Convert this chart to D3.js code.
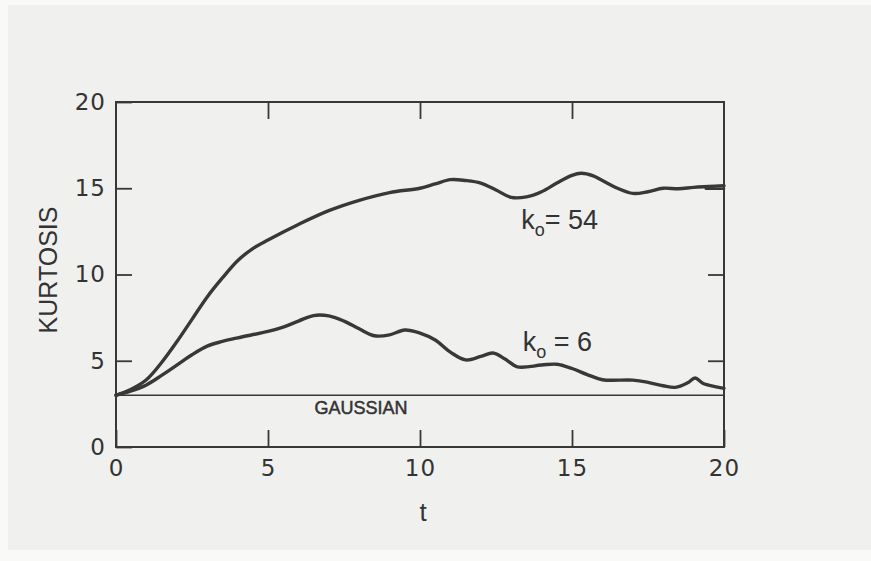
<!DOCTYPE html>
<html>
<head>
<meta charset="utf-8">
<script src="https://cdn.jsdelivr.net/npm/d3@7/dist/d3.min.js"></script>
<style>
  html, body { margin: 0; padding: 0; background: #f9f9f8; }
  svg { display: block; }
</style>
</head>
<body>
<svg id="chart" width="871" height="561"></svg>
<script>
// Kurtosis as a function of time for two initial values k0, with the Gaussian level
const tValues54 = [0, 0.5, 1, 1.5, 2, 2.5, 3, 3.5, 4, 4.5, 5, 6, 7, 8, 9, 10, 10.5, 11, 11.5, 12, 12.5, 13, 13.5, 14, 14.5, 15, 15.3, 15.7, 16, 16.5, 17, 17.5, 18, 18.5, 19, 19.5, 20];
const kurt54 =    [3.0, 3.35, 3.9, 4.9, 6.1, 7.4, 8.7, 9.8, 10.8, 11.5, 12.0, 12.9, 13.7, 14.3, 14.75, 15.0, 15.25, 15.5, 15.45, 15.3, 14.9, 14.47, 14.5, 14.8, 15.3, 15.75, 15.87, 15.72, 15.45, 15.0, 14.7, 14.8, 15.0, 14.97, 15.05, 15.1, 15.15];
const tTail54 = [19.4, 20];
const kurtTail54 = [14.97, 14.97];

const tValues6 = [0, 0.5, 1, 1.5, 2, 2.5, 3, 3.5, 4, 5, 5.5, 6, 6.5, 7, 7.5, 8, 8.5, 9, 9.5, 10, 10.5, 11, 11.5, 12, 12.4, 12.8, 13.2, 14, 14.5, 15, 15.5, 16, 17, 17.5, 18, 18.4, 18.8, 19.05, 19.3, 19.7, 20];
const kurt6 =    [3.0, 3.25, 3.6, 4.15, 4.75, 5.35, 5.85, 6.12, 6.33, 6.7, 6.95, 7.3, 7.62, 7.6, 7.3, 6.85, 6.45, 6.5, 6.78, 6.6, 6.2, 5.5, 5.05, 5.25, 5.45, 5.1, 4.65, 4.75, 4.8, 4.55, 4.2, 3.9, 3.88, 3.75, 3.55, 3.46, 3.72, 4.0, 3.7, 3.5, 3.4];

const gaussianLevel = 3;
const xTicks = [0, 5, 10, 15, 20];
const yTicks = [0, 5, 10, 15, 20];

const ink = "#383838";
const svg = d3.select("#chart");

// paper
svg.append("rect").attr("x", 0).attr("y", 0).attr("width", 871).attr("height", 561).attr("fill", "#f9f9f8");
svg.append("rect").attr("x", 8).attr("y", 5).attr("width", 863).attr("height", 545).attr("fill", "#f0f0ee");

const margin = { left: 116, top: 102, right: 147, bottom: 114 };
const W = 871 - margin.left - margin.right;
const H = 561 - margin.top - margin.bottom;

const x = d3.scaleLinear().domain([0, 20]).range([0, W]);
const y = d3.scaleLinear().domain([0, 20]).range([H, 0]);

const g = svg.append("g").attr("transform", `translate(${margin.left},${margin.top})`);

function styleAxis(sel, showLabels) {
  sel.select(".domain").remove();
  sel.selectAll(".tick line").attr("stroke", ink).attr("stroke-width", 1.8);
  sel.selectAll(".tick text")
    .attr("fill", "#333")
    .style("font-family", "'DejaVu Sans', sans-serif")
    .style("font-size", "23px")
    .style("letter-spacing", "1px");
  if (!showLabels) sel.selectAll(".tick text").remove();
}

g.append("g").attr("transform", `translate(0,${H})`)
  .call(d3.axisBottom(x).tickValues(xTicks).tickSizeInner(-17).tickSizeOuter(0).tickPadding(13).tickFormat(d3.format("d")))
  .call(s => styleAxis(s, true));
g.append("g")
  .call(d3.axisTop(x).tickValues(xTicks.slice(1, -1)).tickSizeInner(-17).tickSizeOuter(0))
  .call(s => styleAxis(s, false));
g.append("g")
  .call(d3.axisLeft(y).tickValues(yTicks).tickSizeInner(-16).tickSizeOuter(0).tickPadding(10).tickFormat(d3.format("d")))
  .call(s => styleAxis(s, true));
g.append("g").attr("transform", `translate(${W},0)`)
  .call(d3.axisRight(y).tickValues(yTicks.slice(1, -1)).tickSizeInner(-16).tickSizeOuter(0))
  .call(s => styleAxis(s, false));

// frame
g.append("rect").attr("x", 0).attr("y", 0).attr("width", W).attr("height", H)
  .attr("fill", "none").attr("stroke", ink).attr("stroke-width", 2);

// Gaussian reference level
g.append("line")
  .attr("x1", x(0)).attr("x2", x(20))
  .attr("y1", y(gaussianLevel)).attr("y2", y(gaussianLevel))
  .attr("stroke", ink).attr("stroke-width", 1.6);

const line = d3.line().x(d => x(d[0])).y(d => y(d[1])).curve(d3.curveCatmullRom.alpha(0.5));

function drawCurve(ts, ks, width) {
  g.append("path")
    .datum(d3.zip(ts, ks))
    .attr("d", line)
    .attr("fill", "none")
    .attr("stroke", ink)
    .attr("stroke-width", width)
    .attr("stroke-linejoin", "round")
    .attr("stroke-linecap", "round");
}
drawCurve(tValues54, kurt54, 3.4);
drawCurve(tTail54, kurtTail54, 2.4);
drawCurve(tValues6, kurt6, 3.4);

// curve labels
const labelFont = "'Liberation Sans', Arial, sans-serif";
function kLabel(t, k, value, gap) {
  const txt = g.append("text")
    .attr("x", x(t)).attr("y", y(k))
    .attr("fill", "#333")
    .style("font-family", labelFont)
    .style("font-size", "27px");
  txt.append("tspan").text("k");
  txt.append("tspan").attr("dy", 7).style("font-size", "18px").text("o");
  txt.append("tspan").attr("dy", -7).text(gap ? " = " + value : "= " + value);
}
kLabel(13.33, 12.64, "54", false);
kLabel(13.38, 5.58, "6", true);

g.append("text")
  .attr("x", x(8.06)).attr("y", y(1.91))
  .attr("text-anchor", "middle")
  .attr("fill", "#333")
  .style("font-family", labelFont)
  .style("font-size", "18px")
  .style("font-weight", "normal")
  .style("stroke", "#333").style("stroke-width", 0.5)
  .text("GAUSSIAN");

// axis titles
svg.append("text")
  .attr("x", 423).attr("y", 521)
  .attr("text-anchor", "middle")
  .attr("fill", "#333")
  .style("font-family", labelFont)
  .style("font-size", "26px")
  .text("t");

svg.append("text")
  .attr("transform", "translate(57,270) rotate(-90)")
  .attr("text-anchor", "middle")
  .attr("fill", "#333")
  .style("font-family", labelFont)
  .style("font-size", "25px")
  .text("KURTOSIS");
</script>
</body>
</html>
